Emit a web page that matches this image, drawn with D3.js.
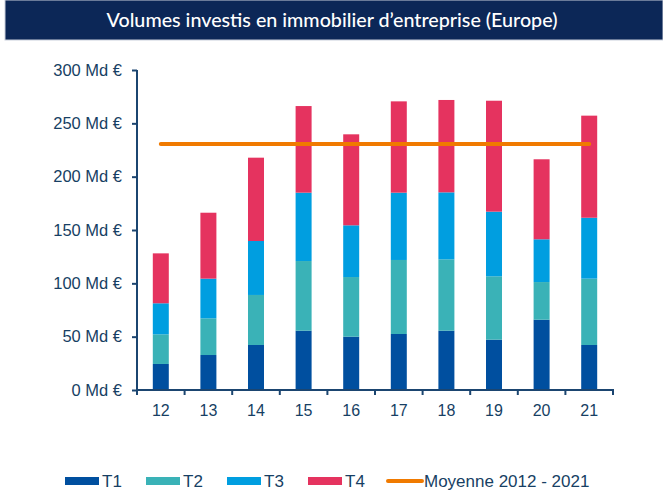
<!DOCTYPE html>
<html>
<head>
<meta charset="utf-8">
<script src="https://cdn.jsdelivr.net/npm/d3@7"></script>
<style>
body { margin: 0; background: #fff; }
svg { display: block; }
</style>
</head>
<body>
<svg width="663" height="490"></svg>
<script>
// data (Md €)
var years = ["12", "13", "14", "15", "16", "17", "18", "19", "20", "21"];
var t1 = [24.4, 32.8, 42.2, 55.6, 50.0, 52.5, 55.6, 47.2, 65.9, 42.2];
var t2 = [27.8, 34.4, 46.9, 65.3, 55.9, 69.4, 66.9, 59.4, 35.3, 62.2];
var t3 = [29.1, 37.2, 50.6, 64.1, 48.5, 63.1, 62.8, 60.6, 40.1, 57.1];
var t4 = [46.8, 61.8, 78.1, 81.2, 85.3, 85.6, 86.6, 104.0, 75.0, 95.7];
var moyenne = 230.6;
var yTicks = [0, 50, 100, 150, 200, 250, 300];
var series = ["T1", "T2", "T3", "T4"];

var colors = {T1: "#004f9f", T2: "#3ab2b7", T3: "#009ee0", T4: "#e5335f"};
var textCol = "#173f64", axisCol = "#1b4570";

var rows = years.map(function(y, i){
	return {year: y, T1: t1[i], T2: t2[i], T3: t3[i], T4: t4[i]};
});

var svg = d3.select("svg");

// title banner
svg.append("rect").attr("x", 5).attr("y", 0).attr("width", 658).attr("height", 40)
	.attr("fill", "#0c2757").attr("stroke", "#c9cfdb").attr("stroke-width", 1);
svg.append("text").attr("x", 332).attr("y", 26.5).attr("text-anchor", "middle")
	.attr("fill", "#fff").style("font-family", "Lato, 'Open Sans', sans-serif")
	.style("font-size", "19.7px").style("font-weight", 500)
	.text("Volumes investis en immobilier d\u2019entreprise (Europe)");

var x = d3.scaleBand().domain(years).range([137, 613]).paddingInner(0.664).paddingOuter(0.332);
var y = d3.scaleLinear().domain([0, 300]).range([390, 70]);

var stack = d3.stack().keys(series)(rows);

svg.append("g").selectAll("g").data(stack).enter().append("g")
	.attr("fill", d => colors[d.key])
	.selectAll("rect").data(d => d).enter().append("rect")
	.attr("x", d => x(d.data.year))
	.attr("y", d => y(d[1]))
	.attr("width", x.bandwidth())
	.attr("height", d => y(d[0]) - y(d[1]));

// average line
svg.append("line")
	.attr("x1", x(years[0]) + x.bandwidth() / 2)
	.attr("x2", x(years[years.length - 1]) + x.bandwidth() / 2)
	.attr("y1", y(moyenne)).attr("y2", y(moyenne))
	.attr("stroke", "#f07a00").attr("stroke-width", 4).attr("stroke-linecap", "round");

// y axis
var yAxis = svg.append("g").attr("transform", "translate(137,0)")
	.call(d3.axisLeft(y).tickValues(yTicks).tickSize(5).tickPadding(10).tickFormat(d => d + " Md \u20ac"));
yAxis.select(".domain").attr("stroke", axisCol).attr("stroke-width", 2).attr("d", "M0,70V390");
yAxis.selectAll(".tick line").attr("stroke", axisCol).attr("stroke-width", 2);
yAxis.selectAll("text").attr("fill", textCol)
	.style("font-family", "'Liberation Sans', Arial, sans-serif").style("font-size", "16.5px");

// x axis: ticks at band boundaries, labels at centres
var xAxis = svg.append("g").attr("transform", "translate(0,390)");
xAxis.append("line").attr("x1", 136).attr("x2", 614).attr("stroke", axisCol).attr("stroke-width", 2);
var bounds = years.map(d => x(d) - x.step() * x.paddingInner() / 2).concat([613]);
xAxis.selectAll(".bt").data(bounds).enter().append("line").attr("class", "bt")
	.attr("x1", d => d).attr("x2", d => d).attr("y1", 0).attr("y2", 5)
	.attr("stroke", axisCol).attr("stroke-width", 2);
xAxis.selectAll("text").data(years).enter().append("text")
	.attr("x", d => x(d) + x.bandwidth() / 2).attr("y", 26)
	.attr("text-anchor", "middle").attr("fill", textCol)
	.style("font-family", "'Liberation Sans', Arial, sans-serif").style("font-size", "16px")
	.text(d => d);

// legend
var legend = [
	{label: "T1", x: 65, kind: "rect", color: colors.T1},
	{label: "T2", x: 146, kind: "rect", color: colors.T2},
	{label: "T3", x: 227, kind: "rect", color: colors.T3},
	{label: "T4", x: 308, kind: "rect", color: colors.T4},
	{label: "Moyenne 2012 - 2021", x: 387, kind: "line", color: "#f07a00"}
];
var lg = svg.append("g").selectAll("g").data(legend).enter().append("g");
lg.filter(d => d.kind == "rect").append("rect")
	.attr("x", d => d.x).attr("y", 477).attr("width", 34).attr("height", 8).attr("fill", d => d.color);
lg.filter(d => d.kind == "line").append("line")
	.attr("x1", d => d.x + 1).attr("x2", d => d.x + 35).attr("y1", 481).attr("y2", 481)
	.attr("stroke", d => d.color).attr("stroke-width", 4).attr("stroke-linecap", "round");
lg.append("text").attr("x", d => d.x + 37).attr("y", 487).attr("fill", textCol)
	.style("font-family", "'Liberation Sans', Arial, sans-serif").style("font-size", "17px")
	.text(d => d.label);
</script>
</body>
</html>
